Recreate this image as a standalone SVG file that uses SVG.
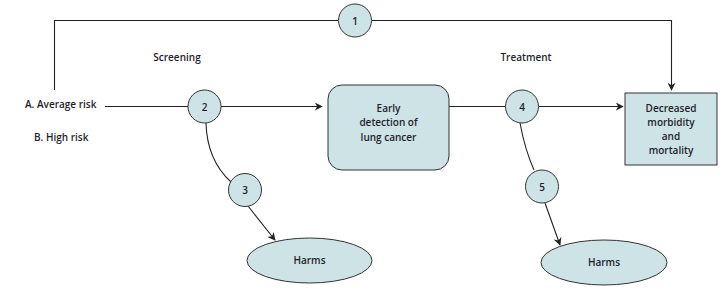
<svg xmlns="http://www.w3.org/2000/svg" width="727" height="305" viewBox="0 0 727 305">
<style>
text{font-family:"Open Sans","Liberation Sans",sans-serif;font-size:10px;font-weight:600;fill:#1e1e2a;text-anchor:middle}
.lbl{text-anchor:start}
.node{fill:#cde3e6;stroke:#333;stroke-width:1}
.c line,.c path,.c polyline{fill:none;stroke:#222;stroke-width:1.1}
</style>
<defs>
<marker id="ah" viewBox="0 0 10 10" refX="9" refY="5" markerWidth="8" markerHeight="8" markerUnits="userSpaceOnUse" orient="auto">
<path d="M0,0 L10,5 L0,10 L3,5 Z" fill="#222"/>
</marker>
</defs>
<rect width="727" height="305" fill="#fff"/>
<g id="connectors" class="c">
<polyline points="54.5,90 54.5,20.5 338,20.5"/>
<polyline points="372,20.5 671.5,20.5 671.5,90" marker-end="url(#ah)"/>
<line x1="105" y1="106.5" x2="188" y2="106.5"/>
<line x1="221" y1="106.5" x2="322" y2="106.5" marker-end="url(#ah)"/>
<line x1="449" y1="106.5" x2="505" y2="106.5"/>
<line x1="539" y1="106.5" x2="623" y2="106.5" marker-end="url(#ah)"/>
<path d="M206,123 Q207,160 231,182"/>
<line x1="248" y1="206" x2="275" y2="240" marker-end="url(#ah)"/>
<path d="M520,123 Q525,150 534,170"/>
<line x1="545" y1="203" x2="560" y2="245" marker-end="url(#ah)"/>
</g>
<g id="labels">
<text x="177" y="61">Screening</text>
<text x="526" y="61">Treatment</text>
<text class="lbl" x="25" y="108">A. Average risk</text>
<text class="lbl" x="34" y="141">B. High risk</text>
</g>
<g id="n1"><circle class="node" cx="355" cy="20.5" r="16.5"/><text x="355" y="24.5">1</text></g>
<g id="n2"><circle class="node" cx="204.5" cy="106.5" r="16.5"/><text x="204.5" y="110.5">2</text></g>
<g id="n3"><circle class="node" cx="245" cy="190" r="16.5"/><text x="245" y="194">3</text></g>
<g id="n4"><circle class="node" cx="522" cy="106.5" r="16.5"/><text x="522" y="110.5">4</text></g>
<g id="n5"><circle class="node" cx="542" cy="186.5" r="16.5"/><text x="542" y="190.5">5</text></g>
<g id="early"><rect class="node" x="328" y="85" width="121" height="85" rx="14"/>
<text x="388.5" y="112">Early</text><text x="388.5" y="126">detection of</text><text x="388.5" y="141">lung cancer</text></g>
<g id="outcome"><rect class="node" x="625" y="93" width="92" height="72"/>
<text x="671" y="112">Decreased</text><text x="671" y="126">morbidity</text><text x="671" y="140">and</text><text x="671" y="154">mortality</text></g>
<g id="harms1"><ellipse class="node" cx="309.5" cy="260.5" rx="62.5" ry="22.5"/><text x="309.5" y="264">Harms</text></g>
<g id="harms2"><ellipse class="node" cx="604" cy="262.5" rx="63" ry="22.5"/><text x="604" y="266">Harms</text></g>
</svg>
